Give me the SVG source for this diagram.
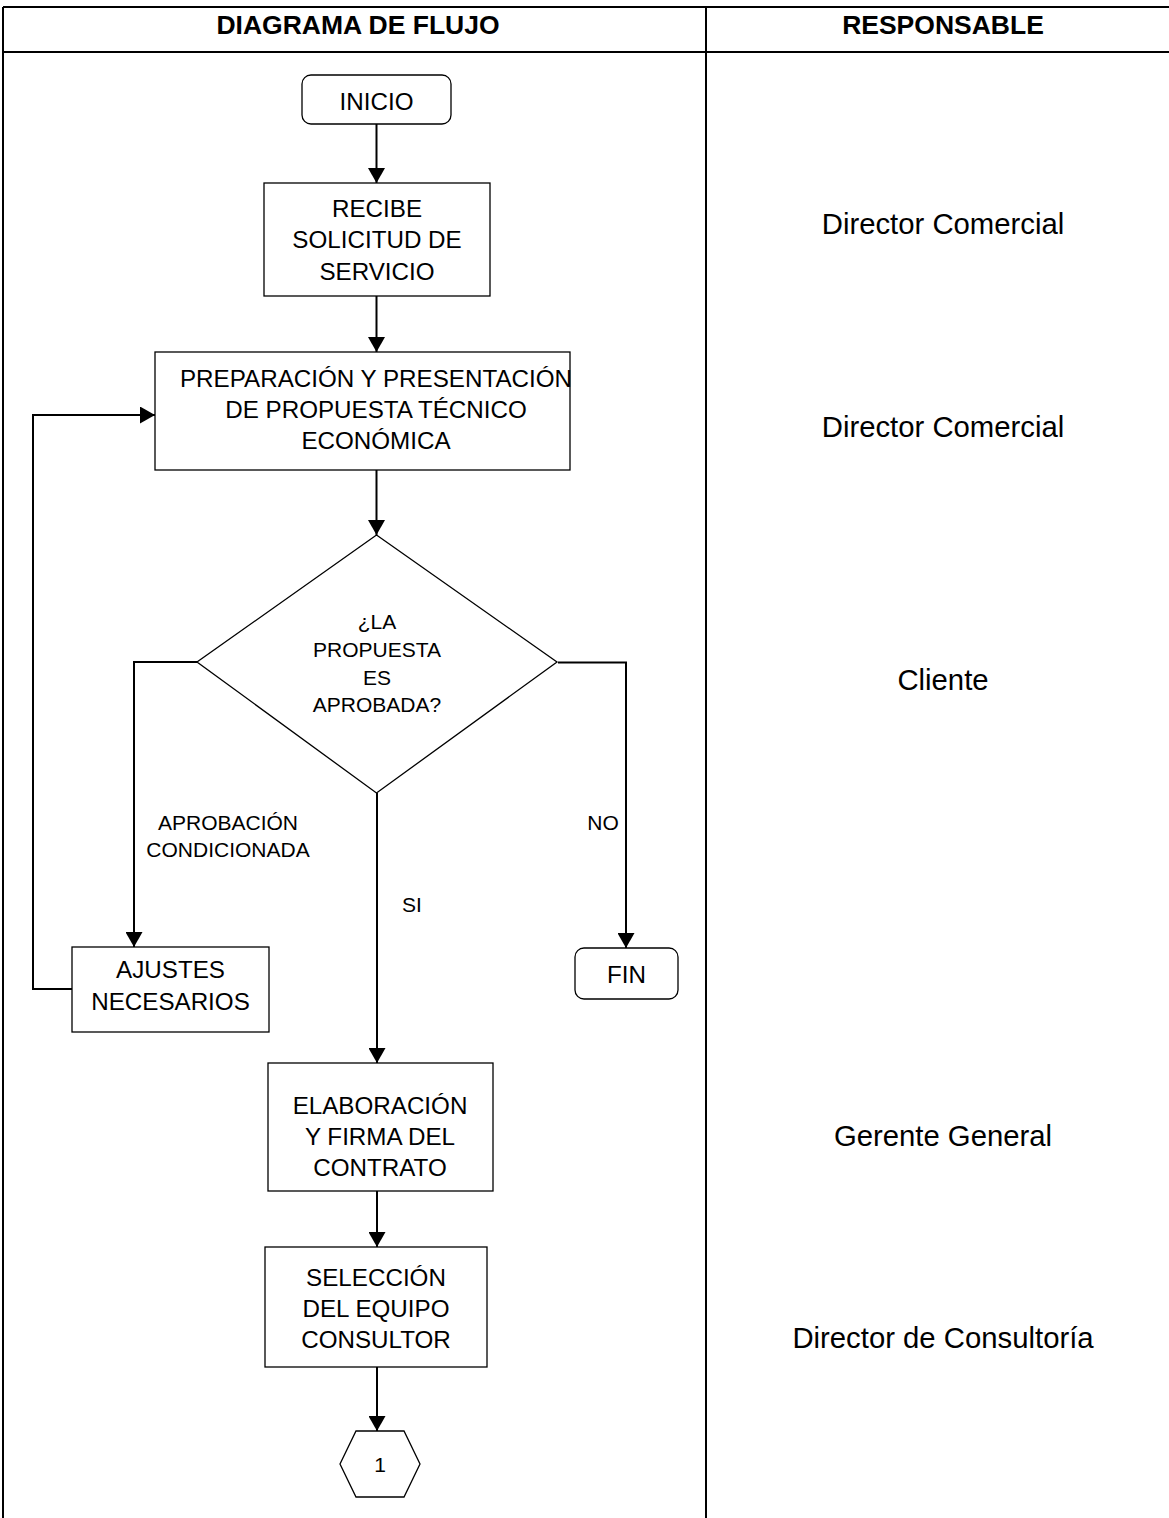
<svg xmlns="http://www.w3.org/2000/svg" width="1169" height="1518" viewBox="0 0 1169 1518">
<style>
  .tbl { stroke:#000; stroke-width:2; fill:none; }
  .box { fill:#fff; stroke:#000; stroke-width:1.3; }
  .con { fill:none; stroke:#000; stroke-width:2; }
  .t { font-family:"Liberation Sans", Arial, sans-serif; font-size:24.2px; fill:#000; text-anchor:middle; }
  .lbl { font-family:"Liberation Sans", Arial, sans-serif; font-size:21px; fill:#000; text-anchor:middle; }
  .hd { font-family:"Liberation Sans", Arial, sans-serif; font-size:26.5px; font-weight:bold; fill:#000; text-anchor:middle; }
  .resp { font-family:"Liberation Sans", Arial, sans-serif; font-size:29.3px; fill:#000; text-anchor:middle; }
</style>
<defs>
  <marker id="arr" markerUnits="userSpaceOnUse" markerWidth="16" markerHeight="17" refX="15" refY="8.5" orient="auto">
    <path d="M0,0 L15,8.5 L0,17 z" fill="#000"/>
  </marker>
</defs>
<rect width="1169" height="1518" fill="#fff"/>
<g id="table">
  <line class="tbl" x1="3" y1="7" x2="1169" y2="7"/>
  <line class="tbl" x1="3" y1="52" x2="1169" y2="52"/>
  <line class="tbl" x1="3" y1="7" x2="3" y2="1518"/>
  <line class="tbl" x1="706" y1="7" x2="706" y2="1518"/>
  <text class="hd" x="358" y="34">DIAGRAMA DE FLUJO</text>
  <text class="hd" x="943" y="34">RESPONSABLE</text>
</g>
<g id="responsables">
  <text class="resp" x="943" y="234">Director Comercial</text>
  <text class="resp" x="943" y="437">Director Comercial</text>
  <text class="resp" x="943" y="690">Cliente</text>
  <text class="resp" x="943" y="1146">Gerente General</text>
  <text class="resp" x="943" y="1348">Director de Consultoría</text>
</g>
<g id="connectors">
  <line class="con" x1="376.5" y1="124" x2="376.5" y2="183" marker-end="url(#arr)"/>
  <line class="con" x1="376.5" y1="296" x2="376.5" y2="352" marker-end="url(#arr)"/>
  <line class="con" x1="376.5" y1="470" x2="376.5" y2="535" marker-end="url(#arr)"/>
  <polyline class="con" points="197,662 134,662 134,947" marker-end="url(#arr)"/>
  <polyline class="con" points="558,662.5 626,662.5 626,948" marker-end="url(#arr)"/>
  <line class="con" x1="377" y1="793" x2="377" y2="1063" marker-end="url(#arr)"/>
  <polyline class="con" points="72,989 33,989 33,415 155,415" marker-end="url(#arr)"/>
  <line class="con" x1="377" y1="1191" x2="377" y2="1247" marker-end="url(#arr)"/>
  <line class="con" x1="377" y1="1367" x2="377" y2="1431" marker-end="url(#arr)"/>
  <text class="lbl" x="228" y="830">APROBACIÓN</text>
  <text class="lbl" x="228" y="857">CONDICIONADA</text>
  <text class="lbl" x="603" y="830">NO</text>
  <text class="lbl" x="412" y="912">SI</text>
</g>
<g id="inicio">
  <rect class="box" x="302" y="75" width="149" height="49" rx="9"/>
  <text class="t" x="376.5" y="110">INICIO</text>
</g>
<g id="recibe">
  <rect class="box" x="264" y="183" width="226" height="113"/>
  <text class="t" x="377" y="217">RECIBE</text>
  <text class="t" x="377" y="248">SOLICITUD DE</text>
  <text class="t" x="377" y="280">SERVICIO</text>
</g>
<g id="preparacion">
  <rect class="box" x="155" y="352" width="415" height="118"/>
  <text class="t" x="376" y="387">PREPARACIÓN Y PRESENTACIÓN</text>
  <text class="t" x="376" y="418">DE PROPUESTA TÉCNICO</text>
  <text class="t" x="376" y="449">ECONÓMICA</text>
</g>
<g id="decision">
  <polygon class="box" points="376.5,535 557,662 376.5,793 197,662"/>
  <text class="lbl" x="377" y="629">¿LA</text>
  <text class="lbl" x="377" y="657">PROPUESTA</text>
  <text class="lbl" x="377" y="685">ES</text>
  <text class="lbl" x="377" y="712">APROBADA?</text>
</g>
<g id="ajustes">
  <rect class="box" x="72" y="947" width="197" height="85"/>
  <text class="t" x="170.5" y="978">AJUSTES</text>
  <text class="t" x="170.5" y="1010">NECESARIOS</text>
</g>
<g id="fin">
  <rect class="box" x="575" y="948" width="103" height="51" rx="9"/>
  <text class="t" x="626.5" y="983">FIN</text>
</g>
<g id="elaboracion">
  <rect class="box" x="268" y="1063" width="225" height="128"/>
  <text class="t" x="380" y="1114">ELABORACIÓN</text>
  <text class="t" x="380" y="1145">Y FIRMA DEL</text>
  <text class="t" x="380" y="1176">CONTRATO</text>
</g>
<g id="seleccion">
  <rect class="box" x="265" y="1247" width="222" height="120"/>
  <text class="t" x="376" y="1286">SELECCIÓN</text>
  <text class="t" x="376" y="1317">DEL EQUIPO</text>
  <text class="t" x="376" y="1348">CONSULTOR</text>
</g>
<g id="conector1">
  <polygon class="box" points="356,1431 404,1431 420,1464 404,1497 356,1497 340,1464"/>
  <text class="lbl" x="380" y="1472">1</text>
</g>
</svg>
